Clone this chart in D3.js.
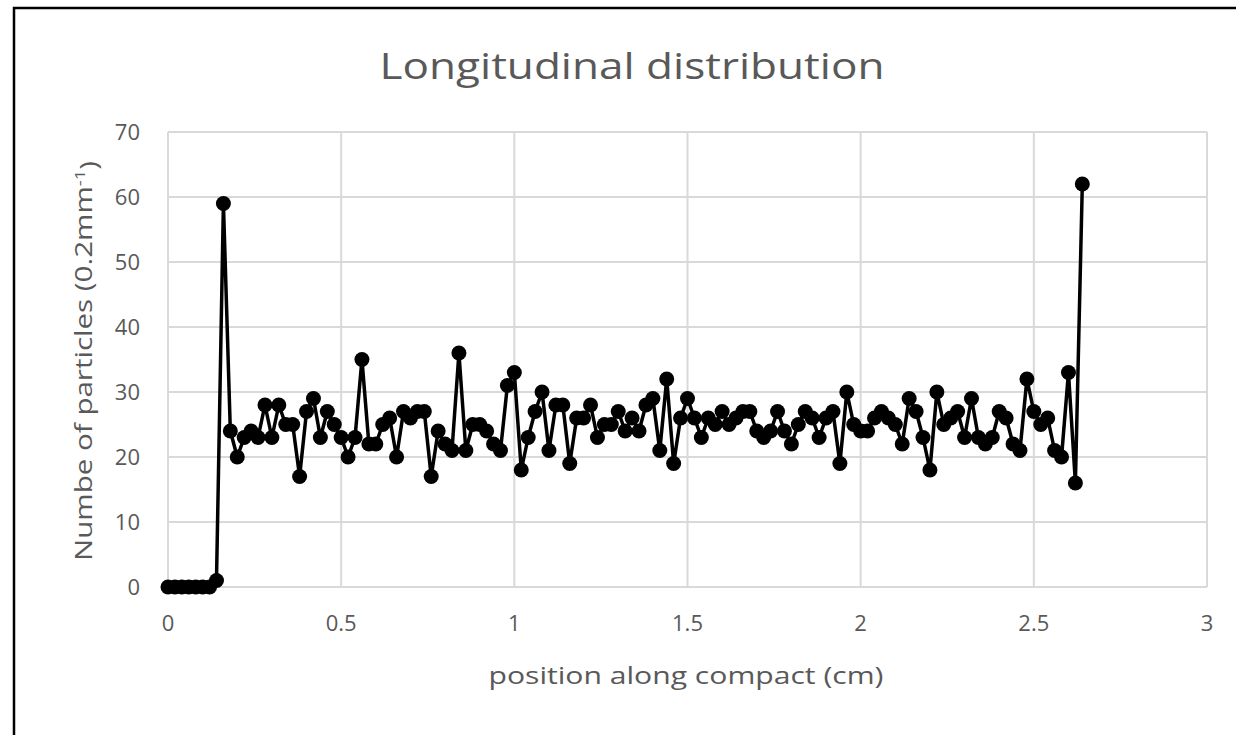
<!DOCTYPE html>
<html>
<head>
<meta charset="utf-8">
<script src="https://cdn.jsdelivr.net/npm/d3@7"></script>
<style>
  body { margin: 0; background: #fff; }
  svg text { font-family: "Open Sans", Lato, sans-serif; fill: #595959; }
</style>
</head>
<body>
<div class="chart"></div>
<script>
// counts per 0.2 mm bin, bins start at 0 and step 0.02 cm
const STEP = 0.02;
const counts = [
  0, 0, 0, 0, 0, 0, 0, 1, 59, 24,
  20, 23, 24, 23, 28, 23, 28, 25, 25, 17,
  27, 29, 23, 27, 25, 23, 20, 23, 35, 22,
  22, 25, 26, 20, 27, 26, 27, 27, 17, 24,
  22, 21, 36, 21, 25, 25, 24, 22, 21, 31,
  33, 18, 23, 27, 30, 21, 28, 28, 19, 26,
  26, 28, 23, 25, 25, 27, 24, 26, 24, 28,
  29, 21, 32, 19, 26, 29, 26, 23, 26, 25,
  27, 25, 26, 27, 27, 24, 23, 24, 27, 24,
  22, 25, 27, 26, 23, 26, 27, 19, 30, 25,
  24, 24, 26, 27, 26, 25, 22, 29, 27, 23,
  18, 30, 25, 26, 27, 23, 29, 23, 22, 23,
  27, 26, 22, 21, 32, 27, 25, 26, 21, 20,
  33, 16, 62
];
const xTicks = [0, 0.5, 1, 1.5, 2, 2.5, 3];
const yTicks = [0, 10, 20, 30, 40, 50, 60, 70];

const W = 1236, H = 735;
const margin = { left: 168, right: 1207, top: 132, bottom: 587 };

const points = counts.map((v, i) => ({ x: +(i * STEP).toFixed(2), y: v }));

const svg = d3.select('.chart')
  .append('svg')
  .attr('width', W)
  .attr('height', H);

// outer frame
svg.append('rect')
  .attr('x', 14)
  .attr('y', 8)
  .attr('width', W + 10)
  .attr('height', H + 10)
  .attr('fill', '#fff')
  .attr('stroke', '#000')
  .attr('stroke-width', 2.5);

const x = d3.scaleLinear().domain([0, 3]).range([margin.left, margin.right]);
const y = d3.scaleLinear().domain([0, 70]).range([margin.bottom, margin.top]);

// gridlines
svg.append('g')
  .selectAll('line')
  .data(yTicks)
  .enter()
  .append('line')
  .attr('x1', margin.left)
  .attr('x2', margin.right)
  .attr('y1', d => y(d))
  .attr('y2', d => y(d))
  .attr('stroke', '#d9d9d9')
  .attr('stroke-width', 2);

svg.append('g')
  .selectAll('line')
  .data(xTicks)
  .enter()
  .append('line')
  .attr('x1', d => x(d))
  .attr('x2', d => x(d))
  .attr('y1', margin.top)
  .attr('y2', margin.bottom)
  .attr('stroke', '#d9d9d9')
  .attr('stroke-width', 2);

// tick labels
svg.append('g')
  .selectAll('text')
  .data(yTicks)
  .enter()
  .append('text')
  .attr('x', margin.left - 28)
  .attr('y', d => y(d))
  .attr('dy', '0.36em')
  .attr('text-anchor', 'end')
  .style('font-size', '22px')
  .text(d => d);

svg.append('g')
  .selectAll('text')
  .data(xTicks)
  .enter()
  .append('text')
  .attr('x', d => x(d))
  .attr('y', margin.bottom + 44)
  .attr('text-anchor', 'middle')
  .style('font-size', '22px')
  .text(d => d);

// titles
svg.append('text')
  .attr('x', 632)
  .attr('y', 79)
  .attr('text-anchor', 'middle')
  .attr('textLength', 505)
  .attr('lengthAdjust', 'spacingAndGlyphs')
  .style('font-size', '37px')
  .text('Longitudinal distribution');

svg.append('text')
  .attr('x', 686)
  .attr('y', 684)
  .attr('text-anchor', 'middle')
  .attr('textLength', 395)
  .attr('lengthAdjust', 'spacingAndGlyphs')
  .style('font-size', '24px')
  .text('position along compact (cm)');

const yTitle = svg.append('text')
  .attr('transform', `translate(92, 361) rotate(-90)`)
  .attr('text-anchor', 'middle')
  .attr('textLength', 400)
  .attr('lengthAdjust', 'spacingAndGlyphs')
  .style('font-size', '24px');
yTitle.append('tspan').text('Numbe  of particles (0.2mm');
yTitle.append('tspan').attr('dy', '-0.5em').style('font-size', '15px').text('-1');
yTitle.append('tspan').attr('dy', '0.5em').text(')');

// series
const line = d3.line()
  .x(d => x(d.x))
  .y(d => y(d.y));

svg.append('path')
  .datum(points)
  .attr('d', line)
  .attr('fill', 'none')
  .attr('stroke', '#000')
  .attr('stroke-width', 3.5)
  .attr('stroke-linejoin', 'round');

svg.append('g')
  .selectAll('circle')
  .data(points)
  .enter()
  .append('circle')
  .attr('cx', d => x(d.x))
  .attr('cy', d => y(d.y))
  .attr('r', 7.5)
  .attr('fill', '#000');
</script>
</body>
</html>
